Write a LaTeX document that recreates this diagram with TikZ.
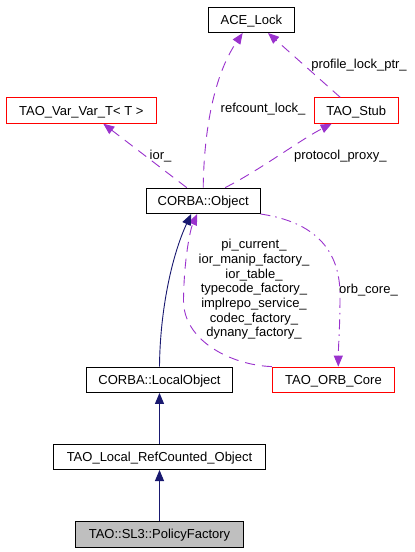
\documentclass[tikz,border=0pt]{standalone}
\usepackage{fontspec}
\setmainfont{Liberation Sans}
\usetikzlibrary{arrows.meta}
\definecolor{edgepurple}{HTML}{9A32CD}
\definecolor{edgenavy}{HTML}{191970}
\definecolor{boxgrey}{HTML}{BFBFBF}
\begin{document}
\begin{tikzpicture}[x=1pt,y=-1pt,
  every node/.style={font=\fontsize{13}{14.7}\selectfont},
  cls/.style={draw=black, line width=0.9pt, inner sep=0pt, minimum height=25.5pt, text height=9.3pt, text depth=0pt},
  redcls/.style={cls, draw=red},
  lbl/.style={inner sep=0pt, text height=9.3pt, text depth=0pt},
  usage/.style={draw=edgepurple, line width=0.9pt, dash pattern=on 10pt off 7pt, -{Triangle[length=11pt,width=9pt]}},
  usagedot/.style={draw=edgepurple, line width=0.9pt, dash pattern=on 10pt off 5pt on 1.5pt off 5pt, -{Triangle[length=11pt,width=9pt]}},
  inherit/.style={draw=edgenavy, line width=0.9pt, -{Triangle[length=11pt,width=9pt]}}
]
\useasboundingbox (0,0) rectangle (415,552);
\fill[white] (0,0) rectangle (415,552);

% nodes
\node[cls, minimum width=86pt] (ace) at (251.3,19.8) {ACE\_Lock};
\node[redcls, minimum width=150pt] (varvar) at (81.3,110.5) {TAO\_Var\_Var\_T< T >};
\node[redcls, minimum width=84.3pt] (stub) at (356.2,110.5) {TAO\_Stub};
\node[cls, minimum width=113.7pt] (obj) at (203.2,200.8) {CORBA::Object};
\node[cls, minimum width=146pt] (local) at (159.5,379.7) {CORBA::LocalObject};
\node[redcls, minimum width=122.4pt] (orb) at (333.5,379.8) {TAO\_ORB\_Core};
\node[cls, minimum width=211.7pt] (refc) at (159.5,456.8) {TAO\_Local\_RefCounted\_Object};
\node[cls, fill=boxgrey, minimum width=168pt] (pf) at (159.5,534.2) {TAO::SL3::PolicyFactory};

% usage edges
\draw[usage] (obj.north) .. controls (204,130) and (214,75) .. ([xshift=-8.6pt]ace.south);
\draw[usage] ([xshift=-16pt]stub.north) -- ([xshift=16.7pt]ace.south);
\draw[usage] ([xshift=-16.5pt]obj.north) -- ([xshift=22pt]varvar.south);
\draw[usage] ([xshift=22pt]obj.north) .. controls (260,170) and (300,140) .. ([xshift=-24.5pt]stub.south);
\draw[usagedot] (obj.south east) .. controls (315,222) and (340,250) .. (340,295) .. controls (340,330) and (338.3,345) .. ([xshift=4.8pt]orb.north);
\draw[usage] (orb.north west) .. controls (230,365) and (183,340) .. (183.5,300) .. controls (184,260) and (190,230) .. ([xshift=-6pt]obj.south);

% inheritance edges
\draw[inherit] (local.north) .. controls (160,310) and (172,255) .. ([xshift=-12pt]obj.south);
\draw[inherit] (refc.north) -- (local.south);
\draw[inherit] (pf.north) -- (refc.south);

% labels
\node[lbl] (l1) at (263,108) {refcount\_lock\_};
\node[lbl] (l2) at (359,64) {profile\_lock\_ptr\_};
\node[lbl] (l3) at (160.5,155) {ior\_};
\node[lbl] (l4) at (340.3,155) {protocol\_proxy\_};
\node[lbl] (l5) at (368.5,289) {orb\_core\_};
\node[inner sep=0pt, align=center] (l6) at (254,289.5) {pi\_current\_\\ior\_manip\_factory\_\\ior\_table\_\\typecode\_factory\_\\implrepo\_service\_\\codec\_factory\_\\dynany\_factory\_};
\end{tikzpicture}
\end{document}
